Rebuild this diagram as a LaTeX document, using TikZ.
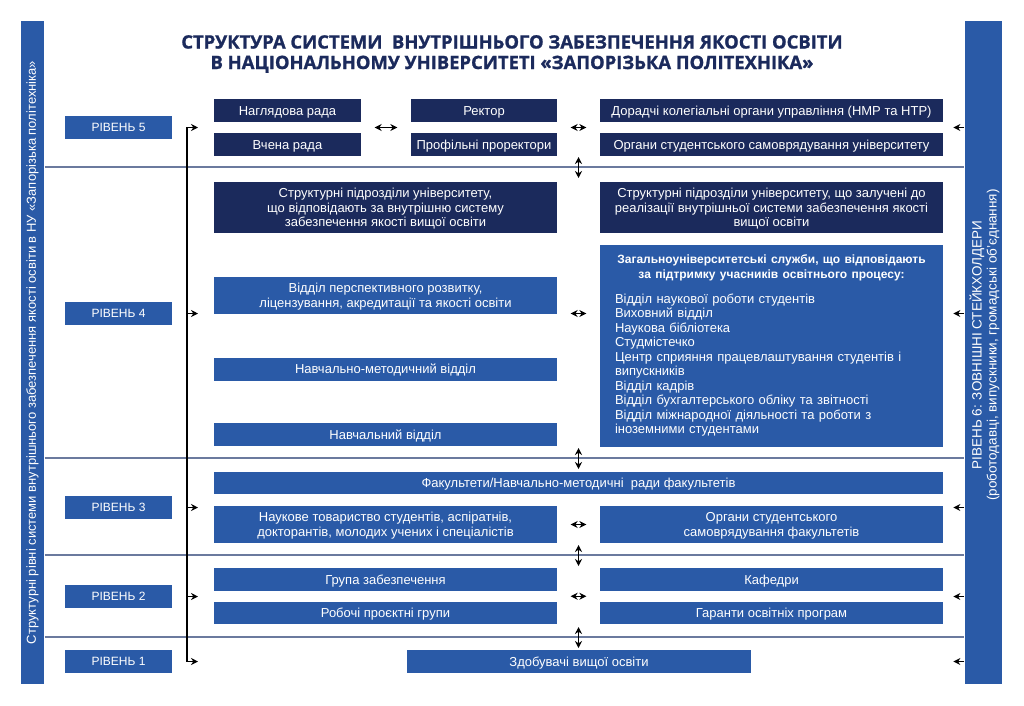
\documentclass[tikz,border=0pt]{standalone}
\usepackage{fontspec}
\setmainfont{Liberation Sans}
\newfontfamily\titlefont[BoldFeatures={FakeBold=1.2}]{Open Sans}
\usetikzlibrary{calc,arrows.meta}
\definecolor{navy}{HTML}{1B2A5C}
\definecolor{midblue}{HTML}{2A5AA7}
\definecolor{sepgray}{HTML}{6B7A9E}

\begin{document}
\begin{tikzpicture}[x=1pt,y=-1pt,line width=1.3pt,
  dark/.style={fill=navy,text=white,inner sep=0pt,align=center,text depth=0pt,
    font=\fontsize{13}{14.5}\selectfont},
  light/.style={dark,fill=midblue},
  one/.style={text height=9.4pt,minimum height=23},
  lvl/.style={light,minimum width=107,minimum height=23,text height=8.6pt,font=\fontsize{12}{14.5}\selectfont},
  bar/.style={fill=midblue,inner sep=0pt,minimum height=663},
  sep/.style={draw=sepgray,line width=1.5pt},
  tip/.style={-{Stealth[length=7pt,width=7pt]}},
  dbl/.style={{Stealth[length=7pt,width=7pt]}-{Stealth[length=7pt,width=7pt]}}]
\useasboundingbox (0,0) rectangle (1024,705);
% title
\node[text=navy,align=center,font=\titlefont\bfseries\fontsize{18.4}{20.5}\selectfont] (ttl) at (512,54)
  {СТРУКТУРА СИСТЕМИ\ \ ВНУТРІШНЬОГО ЗАБЕЗПЕЧЕННЯ ЯКОСТІ ОСВІТИ\\В НАЦІОНАЛЬНОМУ УНІВЕРСИТЕТІ «ЗАПОРІЗЬКА ПОЛІТЕХНІКА»};
% side bars
\node[bar,minimum width=23] (lbar) at (32.5,352.5) {};
\node[rotate=90,text=white,font=\fontsize{13}{14.5}\selectfont] (ltxt) at (lbar.center)
  {Структурні рівні системи внутрішнього забезпечення якості освіти в НУ «Запорізька політехніка»};
\node[bar,minimum width=37] (rbar) at (983.5,352.5) {};
\node[rotate=90,text=white,align=center,font=\fontsize{13.5}{15}\selectfont] (rtxt) at (984.5,345)
  {РІВЕНЬ 6: ЗОВНІШНІ СТЕЙКХОЛДЕРИ\\(роботодавці, випускники, громадські об’єднання)};
% levels
\foreach \n/\y in {5/127.5,4/313.5,3/507.5,2/596.5,1/661.5} \node[lvl] (l\n) at (118.5,\y) {РІВЕНЬ \n};
% separators
\foreach \k/\y in {1/167,2/458,3/555,4/637} {
  \coordinate (s\k) at (578.5,\y);
  \draw[sep] (lbar.east |- s\k) -- (rbar.west |- s\k);
  \draw[dbl] ($(s\k)+(0,-10)$) -- ($(s\k)+(0,11)$);
}
% level 5
\node[dark,one,minimum width=147] (nag) at (287.5,110.5) {Наглядова рада};
\node[dark,one,minimum width=147] (vch) at (287.5,144.5) {Вчена рада};
\node[dark,one,minimum width=146] (rek) at (484,110.5) {Ректор};
\node[dark,one,minimum width=146] (pro) at (484,144.5) {Профільні проректори};
\node[dark,one,minimum width=343] (dor) at (771.5,110.5) {Дорадчі колегіальні органи управління (НМР та НТР)};
\node[dark,one,minimum width=343] (org) at (771.5,144.5) {Органи студентського самоврядування університету};
% level 4
\node[dark,minimum width=343,minimum height=51] (sp1) at (385.5,207.5)
  {Структурні підрозділи університету,\\що відповідають за внутрішню систему\\забезпечення якості вищої освіти};
\node[dark,minimum width=343,minimum height=51] (sp2) at (771.5,207.5)
  {Структурні підрозділи університету, що залучені до\\реалізації внутрішньої системи забезпечення якості\\вищої освіти};
\node[light,minimum width=343,minimum height=37] (vpr) at (385.5,295.5)
  {Відділ перспективного розвитку,\\ліцензування, акредитації та якості освіти};
\node[light,one,minimum width=343] (nmv) at (385.5,369) {Навчально-методичний відділ};
\node[light,one,minimum width=343] (nv) at (385.5,434.5) {Навчальний відділ};
\node[light,text depth=,minimum width=343,minimum height=202,text width=313,align=left] (serv) at (771.5,345.5)
  {{\centering\bfseries\fontsize{12}{15}\selectfont Загальноуніверситетські служби, що відповідають\\за підтримку учасників освітнього процесу:\par}\vspace{10pt}
   Відділ наукової роботи студентів\\Виховний відділ\\Наукова бібліотека\\Студмістечко\\
   Центр сприяння працевлаштування студентів і\\випускників\\Відділ кадрів\\
   Відділ бухгалтерського обліку та звітності\\Відділ міжнародної діяльності та роботи з\\іноземними студентами};
% level 3
\node[light,one,minimum width=729,minimum height=22] (fak) at (578.5,483) {Факультети/Навчально-методичні\ \ ради факультетів};
\node[light,minimum width=343,minimum height=37] (nt) at (385.5,524.5)
  {Наукове товариство студентів, аспіратнів,\\докторантів, молодих учених і спеціалістів};
\node[light,minimum width=343,minimum height=37] (osf) at (771.5,524.5)
  {Органи студентського\\самоврядування факультетів};
% level 2
\node[light,one,minimum width=343] (grz) at (385.5,579.5) {Група забезпечення};
\node[light,one,minimum width=343,minimum height=22] (rpg) at (385.5,613) {Робочі проєктні групи};
\node[light,one,minimum width=343] (kaf) at (771.5,579.5) {Кафедри};
\node[light,one,minimum width=343,minimum height=22] (gar) at (771.5,613) {Гаранти освітніх програм};
% level 1
\node[light,one,minimum width=344] (zd) at (579,661.5) {Здобувачі вищої освіти};
% trunk to all levels
\foreach \n in {5,4,3,2,1} {\coordinate (t\n) at (187,0 |- l\n); \coordinate (h\n) at (198,0 |- l\n);}
\draw[dbl] (h5) -- (t5) -- (t1) -- (h1);
\foreach \n in {4,3,2} \draw[tip] (t\n) -- (h\n);
% links between columns
\foreach \a/\b/\c/\d in {nag/vch/rek/pro,rek/pro/dor/org,grz/rpg/kaf/gar}
  \draw[dbl] ($($(\a.east)!.5!(\b.east)$)+(13,0)$) -- ($($(\c.west)!.5!(\d.west)$)+(-13,0)$);
\draw[dbl] ($(vpr.east |- l4)+(13,0)$) -- ($(serv.west |- l4)+(-13,0)$);
\draw[dbl] ($(nt.east)+(13,0)$) -- ($(osf.west)+(-13,0)$);
% stakeholders
\foreach \n in {5,4,3,2,1} {
  \coordinate (r\n) at (rbar.west |- l\n); \coordinate (q\n) at ($(r\n)+(-11,0)$);
  \draw[tip] (r\n) -- (q\n);
}
\end{tikzpicture}
\end{document}
